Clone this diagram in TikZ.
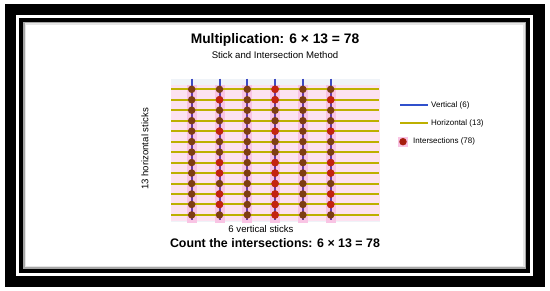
\documentclass[tikz,border=0pt]{standalone}
\usepackage{fontspec}
\setmainfont{Liberation Sans}
\usetikzlibrary{positioning}

\definecolor{panelbg}{HTML}{EFF3F8}
\definecolor{rowpink}{HTML}{FDE2F0}
\definecolor{colpink}{HTML}{F9C4E4}
\definecolor{vblue}{HTML}{3050CC}
\definecolor{vpurple}{HTML}{6A3DA8}
\definecolor{holive}{HTML}{BDB000}
\definecolor{dotbrown}{HTML}{7E3D12}
\definecolor{dotred}{HTML}{C4220F}

\begin{document}
\begin{tikzpicture}[x=1pt,y=-1pt,
  vstick/.style={vpurple, line width=2pt},
  hstick/.style={holive, line width=2pt},
  dot/.style={circle, fill=dotbrown, inner sep=0pt, minimum size=7.5pt},
  reddot/.style={dot, fill=dotred},
  keytext/.style={anchor=west, inner sep=0pt, font=\fontsize{8}{9}\selectfont},
  label/.style={inner sep=0pt, font=\fontsize{9.6}{11}\selectfont}]
  \useasboundingbox (0,0) rectangle (550,291);

  % frame
  \fill[white] (0,0) rectangle (550,291);
  \fill[black] (5,4) rectangle (545,287);
  \fill[white] (16,15) rectangle (533,276);
  \fill[black] (19,18) rectangle (530,273);
  \fill[black!35] (23,22) rectangle (526,269);
  \fill[black!10] (24.5,23.5) rectangle (524.5,267.5);
  \fill[white] (26,25) rectangle (523,266);

  % titles
  \node[font=\bfseries\fontsize{13.8}{16}\selectfont] (title) at (275,40) {Multiplication: 6 × 13 = 78};
  \node[label] (subtitle) at (275,55) {Stick and Intersection Method};

  % panel
  \fill[panelbg] (171,79) rectangle (380,222);
  \fill[rowpink] (171,85) rectangle (380,221);

  \def \ncol {6}
  \def \nrow {13}

  \foreach \c in {1,...,\ncol}{
    \coordinate (vt\c) at ({191.7+(\c-1)*27.8},79);
    \coordinate (vb\c) at ({191.7+(\c-1)*27.8},220);
    \fill[colpink] ([xshift=-5pt]vt\c |- 0,85) rectangle ([xshift=5pt]vb\c |- 0,223);
  }
  \foreach \r in {1,...,\nrow}{
    \coordinate (hl\r) at (171,{89.3+(\r-1)*10.47});
    \coordinate (hr\r) at (379,{89.3+(\r-1)*10.47});
    \draw[hstick] (hl\r) -- (hr\r);
  }
  \foreach \c in {1,...,\ncol}{
    \draw[vstick] (vt\c) -- (vb\c);
    \draw[vblue!75!vpurple, line width=2pt] (vt\c) -- ([yshift=-7pt]vt\c);
  }

  % intersections
  \foreach \c in {1,...,\ncol}
    \foreach \r in {1,...,\nrow}
      \node[dot] (d\c-\r) at (vt\c |- hl\r) {};
  \foreach \c/\r in {2/2,2/5,2/8,2/9,2/11,2/12,
                     4/1,4/2,4/5,4/8,4/9,4/10,4/11,4/12,4/13,
                     6/2,6/5,6/8,6/9,6/11,6/12}
    \node[reddot] (r\c-\r) at (d\c-\r) {};

  % axis labels
  \node[label, rotate=90] (ylab) at (145,149) {13 horizontal sticks};
  \node[label] (xlab) at (261,229) {6 vertical sticks};
  \node[font=\bfseries\fontsize{12.4}{14}\selectfont] (count) at (275,243) {Count the intersections: 6 × 13 = 78};

  % legend
  \coordinate (k1a) at (400,105);
  \coordinate (k1b) at (428,105);
  \coordinate (k2a) at (400,123.3);
  \coordinate (k2b) at (428,123.3);
  \draw[vblue, line width=1.6pt] (k1a) -- (k1b);
  \node[keytext] (k1) at (431,105) {Vertical (6)};
  \draw[holive, line width=1.6pt] (k2a) -- (k2b);
  \node[keytext] (k2) at (431,123.3) {Horizontal (13)};
  \fill[colpink] (398,137) rectangle (408,147);
  \node[dot, fill=dotred!85!black] (k3dot) at (403,141.7) {};
  \node[keytext] (k3) at (413,141.7) {Intersections (78)};
\end{tikzpicture}
\end{document}
